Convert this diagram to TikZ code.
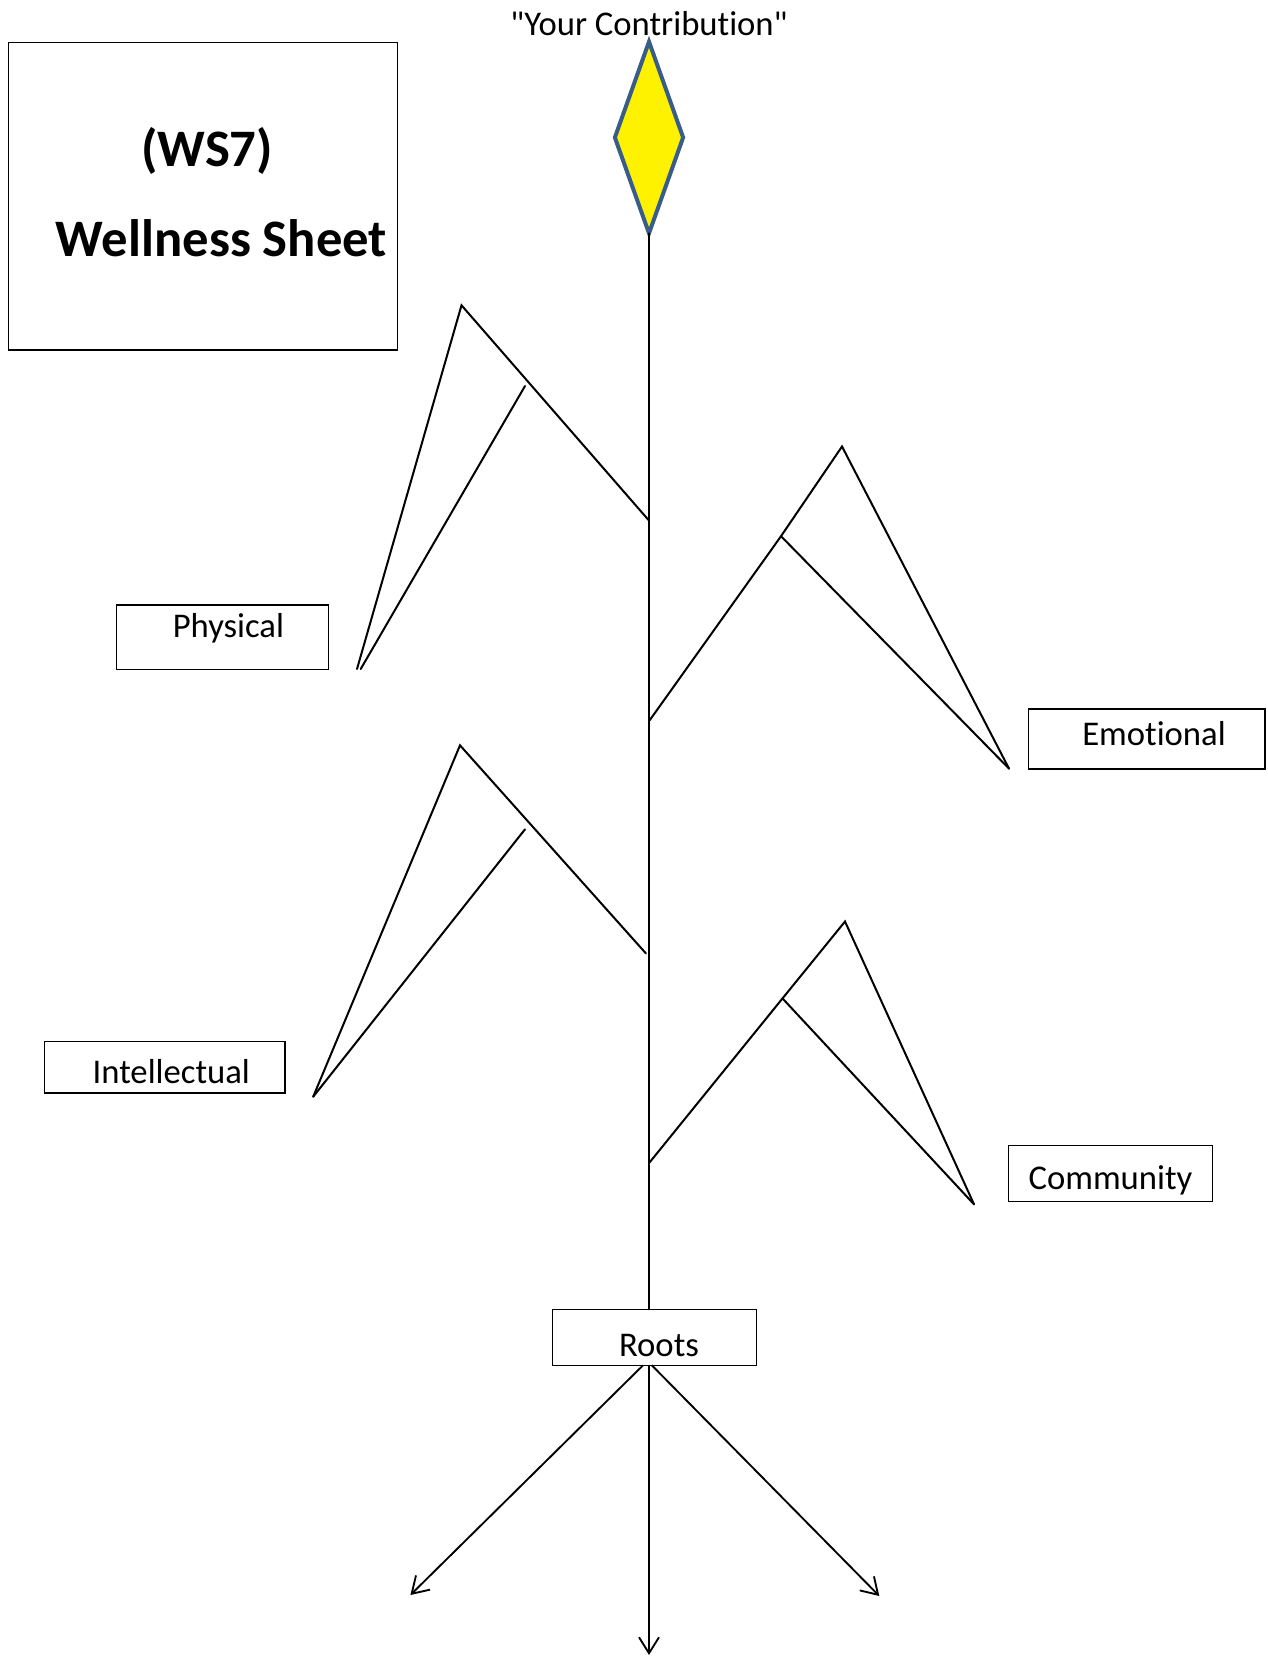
\documentclass[tikz,border=0pt]{standalone}
\usepackage{fontspec}
\setmainfont{Carlito}
\newfontfamily\lblfont{Carlito}[Ligatures=NoCommon]
\usetikzlibrary{arrows.meta,shapes.geometric}
\definecolor{dstroke}{RGB}{56,93,138}
\begin{document}
\begin{tikzpicture}[x=0.75pt,y=-0.75pt,
  lbl/.style={font=\lblfont\fontsize{26}{30}\selectfont, inner sep=0, anchor=base},
  ttl/.style={font=\lblfont\bfseries\fontsize{39.5}{46}\selectfont, inner sep=0, anchor=base},
  box/.style={draw, line width=1pt, inner sep=0, outer sep=0},
  stalk/.style={line width=1.5pt, line cap=round, line join=miter},
  arr/.style={line width=1.4pt, -{Straight Barb[length=12pt,width=15pt]}}]
\useasboundingbox (0,0) rectangle (1267,1658);

% title box
\node[box, minimum width=291.75pt, minimum height=230.8pt] (ws) at (202.8,196.2) {};
\node[ttl] (wsA) at (207,167) {(WS7)};
\node[ttl] (wsB) at (221.5,256.7) {Wellness Sheet};

% top diamond and label
\node[diamond, draw=dstroke, fill=yellow, line width=3pt, inner sep=0, outer sep=0,
      minimum width=51.2pt, minimum height=143.7pt] (top) at (649,137.5) {};
\node[lbl] (contrib) at (649,36) {"Your Contribut\kern0pt ion"};

% roots box
\node[box, minimum width=153.3pt, minimum height=42pt] (roots) at (654.5,1337.3) {};
\node[lbl] (rootsT) at (659,1356.7) {Roots};

% stem
\draw[stalk] (top.south) -- (top.south |- roots.north);

% physical branch
\coordinate (j1) at (648.5,520);
\coordinate (pA) at (461.5,305.3);
\coordinate (pT) at (357,669);
\coordinate (pI) at (525,386);
\coordinate (pIT) at (360.7,669);
\draw[stalk] (j1) -- (pA) -- (pT);
\draw[stalk] (pI) -- (pIT);
\node[box, minimum width=159pt, minimum height=48.2pt] (phys) at (222.7,637.2) {};
\node[lbl] (physT) at (228.4,637.7) {Physical};

% emotional branch
\coordinate (j2) at (649.5,720.5);
\coordinate (eA) at (842,446.5);
\coordinate (eT) at (1009,768.6);
\coordinate (eI) at (781,536.2);
\draw[stalk] (j2) -- (eI) -- (eA) -- (eT);
\draw[stalk] (eI) -- (eT);
\node[box, minimum width=177.5pt, minimum height=45pt] (emo) at (1146.7,739) {};
\node[lbl] (emoT) at (1154,745) {Emot\kern0pt ional};

% intellectual branch
\coordinate (j3) at (646,953.5);
\coordinate (iA) at (460,745.3);
\coordinate (iT) at (313.2,1096.7);
\coordinate (iI) at (525,829.3);
\draw[stalk] (j3) -- (iA) -- (iT);
\draw[stalk] (iI) -- (iT);
\node[box, minimum width=180.5pt, minimum height=38.7pt] (intel) at (164.7,1067.2) {};
\node[lbl] (intelT) at (171.3,1083.3) {Intellectual};

% community branch
\coordinate (j4) at (649.5,1162.5);
\coordinate (cA) at (845,921.5);
\coordinate (cT) at (974,1204.3);
\coordinate (cI) at (782.5,998.4);
\draw[stalk] (j4) -- (cI) -- (cA) -- (cT);
\draw[stalk] (cI) -- (cT);
\node[box, minimum width=153.3pt, minimum height=42pt] (comm) at (1110.5,1173.7) {};
\node[lbl] (commT) at (1110.5,1189.3) {Community};

% roots arrows
\coordinate (rC) at (649,1655);
\coordinate (rR) at (879.3,1596);
\coordinate (rL) at (410.4,1595);
\draw[arr] ([xshift=-4.1pt]roots.south) -- (rC);
\draw[arr] ([xshift=-2pt]roots.south) -- (rR);
\draw[arr] ([xshift=-8.6pt]roots.south) -- (rL);
\end{tikzpicture}
\end{document}
